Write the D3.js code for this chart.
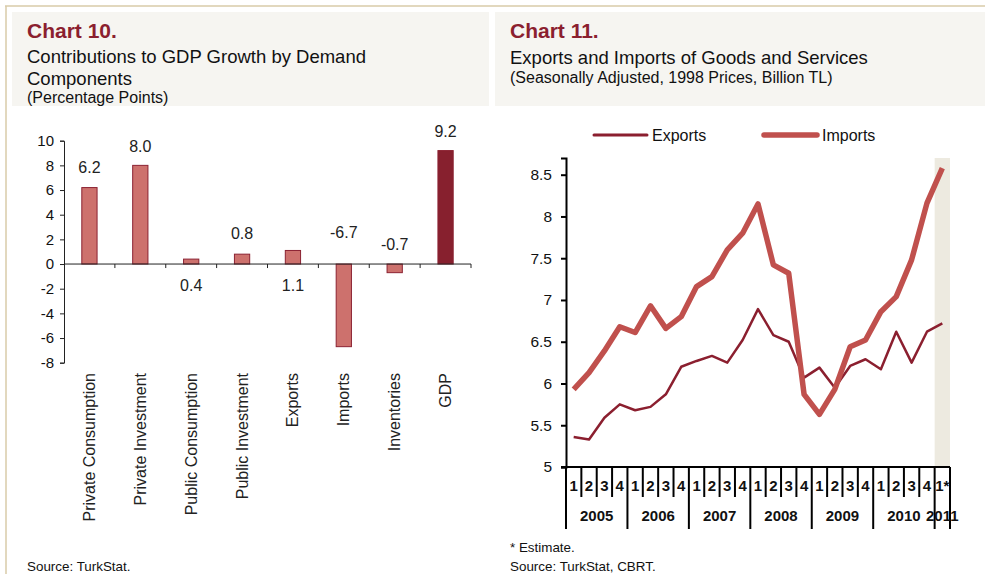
<!DOCTYPE html>
<html>
<head>
<meta charset="utf-8">
<script src="https://cdn.jsdelivr.net/npm/d3@7"></script>
<style>
  body { margin: 0; background: #fff; }
  svg { display: block; font-family: "Liberation Sans", Arial, sans-serif; }
  .ttl { fill: #8b1f2f; font-weight: bold; font-size: 21px; }
  .sub { fill: #111; font-size: 18.5px; }
  .sub2 { fill: #111; font-size: 16px; }
  .note { fill: #111; font-size: 13.4px; }
  .tick-lbl { fill: #111; font-size: 15px; }
</style>
</head>
<body>
<svg width="985" height="574"></svg>
<script>
// ---- chart 10 data ----
var components = ["Private Consumption", "Private Investment", "Public Consumption",
                  "Public Investment", "Exports", "Imports", "Inventories", "GDP"];
var contrib = [6.2, 8.0, 0.4, 0.8, 1.1, -6.7, -0.7, 9.2];
var contribLabelAt = [7.9, 9.6, -1.7, 2.5, -1.7, 2.6, 1.6, 10.8];   // where excel put the labels (in pp)
var contribTicks = [10, 8, 6, 4, 2, 0, -2, -4, -6, -8];

// ---- chart 11 data ----
var quarters = ["1","2","3","4","1","2","3","4","1","2","3","4","1","2","3","4",
                "1","2","3","4","1","2","3","4","1*"];
var years = ["2005", "2006", "2007", "2008", "2009", "2010", "2011"];
var exportsTL = [5.36, 5.33, 5.59, 5.75, 5.68, 5.72, 5.87, 6.20, 6.27, 6.33, 6.25, 6.52, 6.89,
                 6.58, 6.50, 6.07, 6.19, 5.95, 6.21, 6.29, 6.17, 6.62, 6.25, 6.62, 6.72];
var importsTL = [5.93, 6.13, 6.39, 6.68, 6.61, 6.93, 6.66, 6.80, 7.16, 7.28, 7.60, 7.80, 8.15,
                 7.42, 7.32, 5.87, 5.63, 5.93, 6.44, 6.52, 6.86, 7.04, 7.48, 8.16, 8.58];
var tlTicks = [5, 5.5, 6, 6.5, 7, 7.5, 8, 8.5];

var svg = d3.select("svg");

// frame + header panels
svg.append("line").attr("x1", 5).attr("x2", 985).attr("y1", 6).attr("y2", 6)
    .attr("stroke", "#d8cba9").attr("stroke-width", 1.5);
svg.append("line").attr("x1", 6).attr("x2", 6).attr("y1", 6).attr("y2", 574)
    .attr("stroke", "#d8cba9").attr("stroke-width", 1.5);
svg.append("rect").attr("x", 12).attr("y", 12).attr("width", 477).attr("height", 94).attr("fill", "#f6f5f1");
svg.append("rect").attr("x", 495).attr("y", 12).attr("width", 490).attr("height", 94).attr("fill", "#f6f5f1");

function txt(x, y, cls, s) {
  return svg.append("text").attr("x", x).attr("y", y).attr("class", cls).text(s);
}
txt(27, 38, "ttl", "Chart 10.");
txt(27, 63, "sub", "Contributions to GDP Growth by Demand");
txt(27, 85, "sub", "Components");
txt(27, 103, "sub2", "(Percentage Points)");
txt(27, 571, "note", "Source: TurkStat.");

txt(510, 38, "ttl", "Chart 11.");
txt(510, 64, "sub", "Exports and Imports of Goods and Services");
txt(510, 83, "sub2", "(Seasonally Adjusted, 1998 Prices, Billion TL)");
txt(510, 552, "note", "* Estimate.");
txt(510, 571, "note", "Source: TurkStat, CBRT.");

// ================= chart 10 =================
var x10 = d3.scaleBand().domain(components).range([64, 471]);
var y10 = d3.scaleLinear().domain([-8, 10]).range([362.7, 140.7]);
var bw = x10.bandwidth() * 0.3;

var g10 = svg.append("g");
g10.selectAll("rect.bar").data(contrib).enter().append("rect")
    .attr("class", "bar")
    .attr("x", function(d, i) { return x10(components[i]) + x10.bandwidth() / 2 - bw / 2; })
    .attr("y", function(d) { return y10(Math.max(0, d)); })
    .attr("width", bw)
    .attr("height", function(d) { return Math.abs(y10(d) - y10(0)); })
    .attr("fill", function(d, i) { return i == 7 ? "#87202e" : "#cd716d"; })
    .attr("stroke", "#8b2232").attr("stroke-width", 1);

// y axis
var yAx10 = g10.append("g").attr("transform", "translate(64,0)")
    .call(d3.axisLeft(y10).tickValues(contribTicks).tickSize(4).tickPadding(6).tickFormat(d3.format("d")));
yAx10.select(".domain").attr("stroke", "#222");
yAx10.selectAll(".tick line").attr("stroke", "#222");
yAx10.selectAll("text").attr("class", "tick-lbl").attr("font-size", null).attr("font-family", null)
    .attr("fill", null).text(function(d) { return d < 0 ? "-" + Math.abs(d) : d; });

// x axis on zero line, ticks between categories
g10.append("line").attr("x1", 64).attr("x2", 471).attr("y1", y10(0)).attr("y2", y10(0))
    .attr("stroke", "#222");
g10.selectAll("line.sep").data(components).enter().append("line")
    .attr("class", "sep")
    .attr("x1", function(d) { return x10(d) + x10.bandwidth(); })
    .attr("x2", function(d) { return x10(d) + x10.bandwidth(); })
    .attr("y1", y10(0)).attr("y2", y10(0) + 4)
    .attr("stroke", "#222");

// value labels
g10.selectAll("text.val").data(contrib).enter().append("text")
    .attr("class", "val")
    .attr("x", function(d, i) { return x10(components[i]) + x10.bandwidth() / 2; })
    .attr("y", function(d, i) { return y10(contribLabelAt[i]) + 6; })
    .attr("text-anchor", "middle")
    .attr("font-size", 16).attr("fill", "#222")
    .text(function(d) { return d.toFixed(1); });

// category labels, rotated
g10.selectAll("text.cat").data(components).enter().append("text")
    .attr("class", "cat")
    .attr("transform", function(d) {
      return "translate(" + (x10(d) + x10.bandwidth() / 2 + 5.5) + ",373) rotate(-90)";
    })
    .attr("text-anchor", "end")
    .attr("font-size", 16).attr("fill", "#222")
    .text(function(d) { return d; });

// ================= chart 11 =================
var idx = d3.range(quarters.length);
var x11 = d3.scaleBand().domain(idx).range([566, 950]);
var y11 = d3.scaleLinear().domain([5, 8.7]).range([467, 158]);
var g11 = svg.append("g");

// estimate shading
g11.append("rect")
    .attr("x", x11(24)).attr("y", y11(8.7))
    .attr("width", x11.bandwidth()).attr("height", y11(5) - y11(8.7))
    .attr("fill", "#edeae0");

var yAx11 = g11.append("g").attr("transform", "translate(566,0)")
    .call(d3.axisLeft(y11).tickValues(tlTicks).tickSize(5).tickPadding(9)
      .tickFormat(function(d) { return d % 1 ? d.toFixed(1) : d; }));
yAx11.select(".domain").attr("stroke", "#000").attr("stroke-width", 2);
yAx11.selectAll(".tick line").attr("stroke", "#000").attr("stroke-width", 2);
yAx11.selectAll("text").attr("font-size", 15.5).attr("font-family", null).attr("fill", "#111");

// x axis: quarter / year grid
g11.append("line").attr("x1", 561).attr("x2", 950).attr("y1", y11(5)).attr("y2", y11(5))
    .attr("stroke", "#000").attr("stroke-width", 2);
g11.selectAll("line.qsep").data(idx).enter().append("line")
    .attr("class", "qsep")
    .attr("x1", function(i) { return x11(i) + x11.bandwidth(); })
    .attr("x2", function(i) { return x11(i) + x11.bandwidth(); })
    .attr("y1", y11(5))
    .attr("y2", function(i) { return (i % 4 == 3 || i == 24) ? 529 : 497; })
    .attr("stroke", "#000").attr("stroke-width", 2);
g11.append("line").attr("x1", 566).attr("x2", 566).attr("y1", y11(5)).attr("y2", 529)
    .attr("stroke", "#000").attr("stroke-width", 2);
g11.selectAll("text.q").data(quarters).enter().append("text")
    .attr("class", "q")
    .attr("x", function(d, i) { return x11(i) + x11.bandwidth() / 2; })
    .attr("y", 491)
    .attr("text-anchor", "middle")
    .attr("font-size", 15).attr("font-weight", "bold").attr("fill", "#111")
    .text(function(d) { return d; });
g11.selectAll("text.yr").data(years).enter().append("text")
    .attr("class", "yr")
    .attr("x", function(d, i) {
      var first = i * 4, last = Math.min(i * 4 + 3, quarters.length - 1);
      return (x11(first) + x11(last) + x11.bandwidth()) / 2;
    })
    .attr("y", 521)
    .attr("text-anchor", "middle")
    .attr("font-size", 15).attr("font-weight", "bold").attr("fill", "#111")
    .text(function(d) { return d; });

var line11 = function(vals) {
  return d3.line()
    .x(function(d, i) { return x11(i) + x11.bandwidth() / 2; })
    .y(function(d) { return y11(d); })(vals);
};
g11.append("path").attr("d", line11(exportsTL))
    .attr("fill", "none").attr("stroke", "#8b1f2f").attr("stroke-width", 2.5)
    .attr("stroke-linejoin", "round");
g11.append("path").attr("d", line11(importsTL))
    .attr("fill", "none").attr("stroke", "#c0504d").attr("stroke-width", 5.5)
    .attr("stroke-linejoin", "round");

// legend
var legend = [{name: "Exports", color: "#8b1f2f", w: 3, x: 594},
              {name: "Imports", color: "#c0504d", w: 5.5, x: 764}];
var lg = g11.selectAll("g.lg").data(legend).enter().append("g").attr("class", "lg")
    .attr("transform", function(d) { return "translate(" + d.x + ",135)"; });
lg.append("line").attr("x1", 0).attr("x2", 53)
    .attr("stroke", function(d) { return d.color; })
    .attr("stroke-width", function(d) { return d.w; })
    .attr("stroke-linecap", "round");
lg.append("text").attr("x", 58).attr("y", 5.5)
    .attr("font-size", 16).attr("fill", "#111")
    .text(function(d) { return d.name; });
</script>
</body>
</html>
